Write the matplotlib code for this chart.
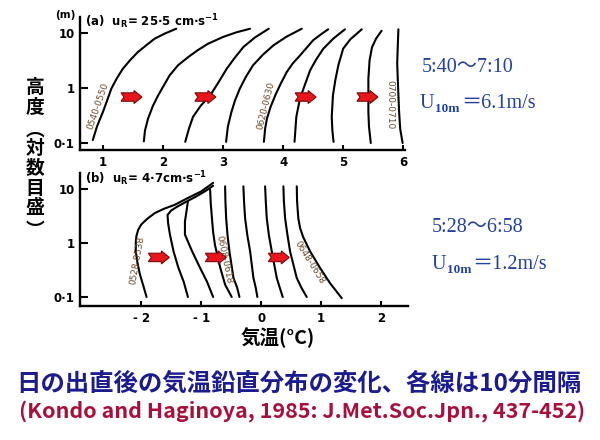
import matplotlib
matplotlib.use('Agg')
import matplotlib.pyplot as plt
from matplotlib.patches import Polygon
from matplotlib.transforms import IdentityTransform
from matplotlib.ticker import NullLocator, FixedLocator

# ---------------- data ----------------
yticks = [0.1, 1, 10]
yticklabels = ['0·1', '1', '10']

a_xticks = [1, 2, 3, 4, 5, 6]
a_xticklabels = ['1', '2', '3', '4', '5', '6']
b_xticks = [-2, -1, 0, 1, 2]
b_xticklabels = ['- 2', '- 1', '0', '1', '2']

# panel (a): 0540-0550 ... 0700-0710, temperature (degC) and height (m)
a_T = [
    [0.83, 0.90, 1.00, 1.07, 1.14, 1.23, 1.33, 1.45, 1.58, 1.72, 1.86, 2.03, 2.22],
    [1.68, 1.70, 1.75, 1.83, 1.92, 2.01, 2.11, 2.25, 2.42, 2.58, 2.75, 3.00, 3.22, 3.45],
    [2.37, 2.43, 2.50, 2.63, 2.78, 2.92, 3.06, 3.19, 3.34, 3.53, 3.76],
    [3.05, 3.08, 3.14, 3.20, 3.28, 3.38, 3.50, 3.66, 3.84, 4.05, 4.31],
    [3.68, 3.70, 3.73, 3.79, 3.87, 3.96, 4.06, 4.16, 4.28, 4.50, 4.62, 4.75],
    [4.19, 4.22, 4.28, 4.34, 4.45, 4.55, 4.67, 4.84, 5.03],
    [4.84, 4.82, 4.81, 4.83, 4.87, 4.92, 5.00, 5.12, 5.31],
    [5.46, 5.43, 5.42, 5.42, 5.44, 5.48, 5.55, 5.64],
    [5.99, 5.95, 5.93, 5.92, 5.90, 5.91, 5.92],
]
a_z = [
    [0.113, 0.20, 0.37, 0.60, 0.98, 1.5, 2.24, 3.2, 4.5, 6.0, 7.9, 9.8, 12.0],
    [0.107, 0.17, 0.277, 0.47, 0.74, 1.1, 1.7, 2.6, 3.66, 4.9, 6.4, 8.5, 10.3, 12.0],
    [0.105, 0.18, 0.30, 0.48, 0.72, 1.25, 2.24, 3.5, 5.6, 8.3, 12.0],
    [0.105, 0.20, 0.37, 0.60, 0.98, 1.6, 2.6, 4.0, 6.0, 8.5, 12.0],
    [0.105, 0.18, 0.277, 0.45, 0.74, 1.2, 1.95, 2.8, 3.9, 7.4, 9.3, 11.7],
    [0.105, 0.30, 0.64, 0.98, 2.1, 3.3, 5.2, 8.0, 11.7],
    [0.105, 0.17, 0.30, 0.74, 1.4, 2.6, 5.2, 7.7, 11.7],
    [0.10, 0.20, 0.37, 1.48, 3.2, 5.5, 8.0, 11.0],
    [0.10, 0.18, 0.40, 0.74, 2.8, 6.0, 11.7],
]
a_labels = ['0540-0550', '0620-0630', '0700-0710']
a_label_T = [0.92, 3.72, 5.78]
a_label_z = [0.47, 0.47, 0.49]
a_label_rot = [71, 76, -90]
a_arrow_T = [1.30, 2.53, 4.20, 5.23]
a_arrow_z = 0.686

# panel (b): 0528-0538 ... 0648-0658
b_T = [
    [-1.91, -1.97, -2.02, -2.06, -2.09, -2.09, -2.08, -2.05, -2.00, -1.90, -1.77,
     -1.62, -1.44, -1.20, -1.00, -0.80],
    [-1.22, -1.29, -1.38, -1.46, -1.52, -1.55, -1.56, -1.50, -1.40, -1.25, -1.08,
     -0.92, -0.80],
    [-0.80, -0.90, -1.02, -1.15, -1.27, -1.27, -1.25, -1.22],
    [-0.49, -0.60, -0.68, -0.77, -0.80, -0.82, -0.84, -0.85],
    [-0.361, -0.40, -0.461, -0.528, -0.56, -0.583, -0.595, -0.60],
    [-0.062, -0.09, -0.128, -0.183, -0.23, -0.267, -0.285, -0.295],
    [0.361, 0.31, 0.261, 0.178, 0.13, 0.094, 0.078, 0.067],
    [0.761, 0.67, 0.594, 0.483, 0.44, 0.40, 0.38, 0.372],
    [1.345, 1.15, 0.98, 0.817, 0.70, 0.65, 0.62, 0.60, 0.595],
]
b_z = [
    [0.10, 0.17, 0.26, 0.42, 0.70, 1.0, 1.33, 1.75, 2.19, 2.8, 3.6, 4.3, 5.1,
     7.0, 9.0, 13.0],
    [0.10, 0.19, 0.35, 0.70, 1.43, 2.3, 3.3, 4.0, 4.7, 5.8, 7.3, 9.3, 11.5],
    [0.10, 0.19, 0.35, 0.70, 1.43, 2.5, 3.5, 5.9],
    [0.10, 0.169, 0.344, 0.93, 1.6, 2.9, 5.5, 9.7],
    [0.10, 0.15, 0.226, 0.70, 1.4, 2.9, 6.0, 11.2],
    [0.10, 0.15, 0.226, 0.70, 1.4, 2.9, 6.0, 11.2],
    [0.10, 0.15, 0.226, 0.70, 1.4, 2.9, 6.0, 11.2],
    [0.10, 0.15, 0.226, 0.70, 1.4, 2.9, 6.0, 11.2],
    [0.095, 0.18, 0.35, 0.70, 1.3, 1.9, 2.9, 6.0, 11.2],
]
b_labels = ['0528-0538', '0608-0618', '0648-0658']
b_label_T = [-2.07, -0.62, 0.80]
b_label_z = [0.48, 0.50, 0.44]
b_label_rot = [80, -78, -58]
b_arrow_T = [-1.88, -0.93, 0.12]
b_arrow_z = 0.54

# ---------------- figure ----------------
W, H = 600, 440
fig = plt.figure(figsize=(6, 4.4), dpi=100)
fig.patch.set_facecolor('white')

def fx(px):
    return px / W

def fy(py):
    return 1 - py / H

CJK = ['Noto Sans CJK JP', 'DejaVu Sans']
SERIF = ['Liberation Serif', 'Noto Sans CJK JP']
LBLC = '#6b4a2a'


def style_axes(ax, xticks, xticklabels, xlim, ylim):
    ax.set_yscale('log')
    ax.set_xlim(*xlim)
    ax.set_ylim(*ylim)
    for s in ['top', 'right']:
        ax.spines[s].set_visible(False)
    for s in ['left', 'bottom']:
        ax.spines[s].set_linewidth(1.7)
    ax.yaxis.set_major_locator(FixedLocator(yticks))
    ax.yaxis.set_minor_locator(NullLocator())
    ax.set_yticklabels(yticklabels)
    ax.set_xticks(xticks)
    ax.set_xticklabels(xticklabels)
    ax.tick_params(axis='y', direction='in', length=6, width=1.5, pad=4,
                   labelsize=8.5)
    ax.tick_params(axis='x', direction='in', length=3.5, width=1.5, pad=4,
                   labelsize=8.5)
    for t in ax.get_xticklabels() + ax.get_yticklabels():
        t.set_fontweight('bold')
    ax.patch.set_alpha(0)


def draw_arrow(ax, T, z):
    x0, y0 = ax.transData.transform((T, z))
    verts = [(0, -4.2), (13, -4.2), (13, -6.5), (21, 0), (13, 6.5),
             (13, 4.2), (0, 4.2), (3, 0)]
    pts = [(x0 + dx, y0 + dy) for dx, dy in verts]
    poly = Polygon(pts, closed=True, facecolor='#e8161c', edgecolor='#7a0a0a',
                   linewidth=0.8, transform=IdentityTransform(), zorder=5)
    ax.add_patch(poly)


# panel (a)
axA = fig.add_axes([fx(80), fy(150), 325 / W, 133 / H])
style_axes(axA, a_xticks, a_xticklabels, (0.617, 6.03), (0.0746, 19.6))
for T, z in zip(a_T, a_z):
    axA.plot(T, z, color='black', lw=1.5, solid_capstyle='round',
             solid_joinstyle='round')
for lab, T, z, r in zip(a_labels, a_label_T, a_label_z, a_label_rot):
    axA.text(T, z, lab, rotation=r, fontsize=6.5, color=LBLC,
             ha='center', va='center', rotation_mode='anchor')
for T in a_arrow_T:
    draw_arrow(axA, T, a_arrow_z)

# panel (b)
axB = fig.add_axes([fx(80), fy(306), 328 / W, 133 / H])
style_axes(axB, b_xticks, b_xticklabels, (-3.02, 2.45), (0.068, 19.8))
for T, z in zip(b_T, b_z):
    axB.plot(T, z, color='black', lw=1.5, solid_capstyle='round',
             solid_joinstyle='round')
for lab, T, z, r in zip(b_labels, b_label_T, b_label_z, b_label_rot):
    axB.text(T, z, lab, rotation=r, fontsize=6.5, color=LBLC,
             ha='center', va='center', rotation_mode='anchor')
for T in b_arrow_T:
    draw_arrow(axB, T, b_arrow_z)

# panel annotations
fig.text(fx(55), fy(18), '(m)', fontsize=7.5, fontweight='bold', va='baseline')
fig.text(fx(85), fy(26), '(a)  u$_\\mathregular{R}$= 25·5 cm·s$^\\mathregular{-1}$',
         fontsize=8.5, fontweight='bold', va='baseline')
fig.text(fx(85), fy(183), '(b)  u$_\\mathregular{R}$= 4·7cm·s$^\\mathregular{-1}$',
         fontsize=8.5, fontweight='bold', va='baseline')

# vertical y label
ylab_chars = ['高', '度', '︵', '対', '数', '目', '盛', '︶']
ylab_pos = [87, 107, 130, 149, 168, 188, 207, 230]
for ch, py in zip(ylab_chars, ylab_pos):
    fig.text(fx(35), fy(py), ch, fontsize=13.5, fontweight='bold', family=CJK,
             ha='center', va='center')

# x label
fig.text(fx(278), fy(338), '気温(°C)', fontsize=14, fontweight='bold',
         family=CJK, ha='center', va='center')

# right-side blue notes
BLUE = '#22409c'
fig.text(fx(422), fy(72), '5:40～7:10', fontsize=14.5, color=BLUE, family=SERIF,
         va='baseline')
fig.text(fx(420), fy(108), 'U', fontsize=14.5, color=BLUE, family=SERIF, va='baseline')
fig.text(fx(435), fy(112), '10m', fontsize=9.5, color=BLUE, family=SERIF,
         fontweight='bold', va='baseline')
fig.text(fx(461), fy(108), '＝6.1m/s', fontsize=14.5, color=BLUE, family=SERIF,
         va='baseline')

fig.text(fx(432), fy(232), '5:28～6:58', fontsize=14.5, color=BLUE, family=SERIF,
         va='baseline')
fig.text(fx(432), fy(269), 'U', fontsize=14.5, color=BLUE, family=SERIF, va='baseline')
fig.text(fx(447), fy(273), '10m', fontsize=9.5, color=BLUE, family=SERIF,
         fontweight='bold', va='baseline')
fig.text(fx(472), fy(269), '＝1.2m/s', fontsize=14.5, color=BLUE, family=SERIF,
         va='baseline')

# bottom captions
fig.text(fx(299), fy(384), '日の出直後の気温鉛直分布の変化、各線は10分間隔',
         fontsize=17.6, fontweight='bold', color='#1c1c8e', family=CJK,
         ha='center', va='center')
fig.text(fx(302), fy(411), '(Kondo and Haginoya, 1985: J.Met.Soc.Jpn., 437-452)',
         fontsize=15.5, fontweight='bold', color='#a8103c', family=CJK,
         ha='center', va='center')

fig.savefig('out.png', dpi=100, facecolor='white')
